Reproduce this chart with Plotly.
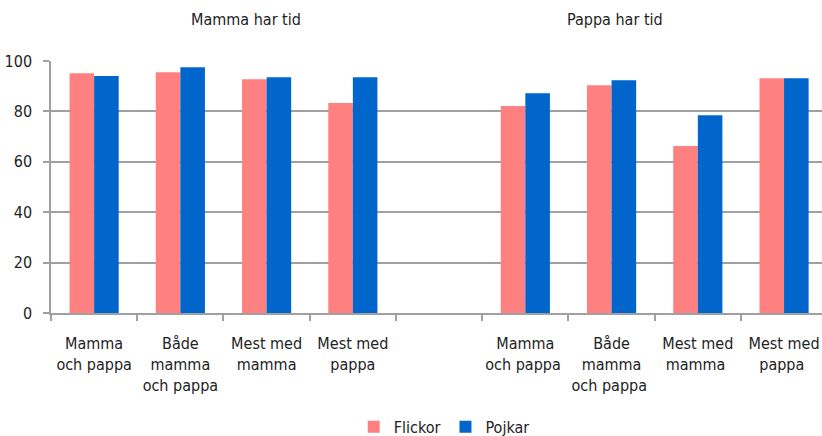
import plotly.graph_objects as go

categories = ["Mamma<br>och pappa", "Både<br>mamma<br>och pappa", "Mest med<br>mamma", "Mest med<br>pappa", " ",
              "Mamma<br>och pappa ", "Både<br>mamma<br>och pappa ", "Mest med<br>mamma ", "Mest med<br>pappa "]
flickor = [95.1, 95.5, 92.8, 83.3, None, 82.1, 90.4, 66.3, 93.2]
pojkar = [94.0, 97.5, 93.6, 93.6, None, 87.2, 92.4, 78.5, 93.2]
y_ticks = [0, 20, 40, 60, 80, 100]
group_titles = ["Mamma har tid", "Pappa har tid"]

FONT = "DejaVu Sans Condensed, Liberation Sans Narrow, Arial Narrow, sans-serif"

fig = go.Figure()
fig.add_trace(go.Bar(name="Flickor", x=categories, y=flickor, marker_color="#FF8080", marker_line_width=0))
fig.add_trace(go.Bar(name="Pojkar", x=categories, y=pojkar, marker_color="#0066CC", marker_line_width=0))

fig.update_layout(
    width=822, height=436,
    margin=dict(l=51, r=0, t=61, b=123, autoexpand=False),
    paper_bgcolor="white", plot_bgcolor="white",
    barmode="group", bargap=0.43, bargroupgap=0,
    font=dict(family=FONT, size=16, color="#222222"),
    showlegend=True,
    legend=dict(orientation="h", x=0.51, xanchor="center", y=-0.452, yanchor="middle",
                font=dict(size=16), itemwidth=30, traceorder="normal"),
    xaxis=dict(type="category", range=[-0.5, 8.44], showline=True, linecolor="#A0A0A0", linewidth=1.5,
               ticks="outside", tickson="boundaries", ticklen=6, tickcolor="#A0A0A0", tickwidth=1.5,
               showgrid=False, tickangle=0, ticklabelstandoff=15, automargin=False),
    yaxis=dict(range=[0, 100], tickvals=y_ticks, showline=True, linecolor="#A0A0A0", linewidth=1.5,
               ticks="outside", ticklen=6, tickcolor="#A0A0A0", tickwidth=1.5,
               showgrid=True, gridcolor="#A0A0A0", gridwidth=1.5, zeroline=False, ticklabelstandoff=8,
               automargin=False),
)

fig.add_annotation(text=group_titles[0], x=1.76, xref="x", y=1.163, yref="paper", yanchor="middle",
                   showarrow=False, font=dict(size=16))
fig.add_annotation(text=group_titles[1], x=6.04, xref="x", y=1.163, yref="paper", yanchor="middle",
                   showarrow=False, font=dict(size=16))

fig.write_html("out.html", config={"displayModeBar": False},
               post_script="document.body.style.margin='0';document.body.style.overflow='hidden';")
